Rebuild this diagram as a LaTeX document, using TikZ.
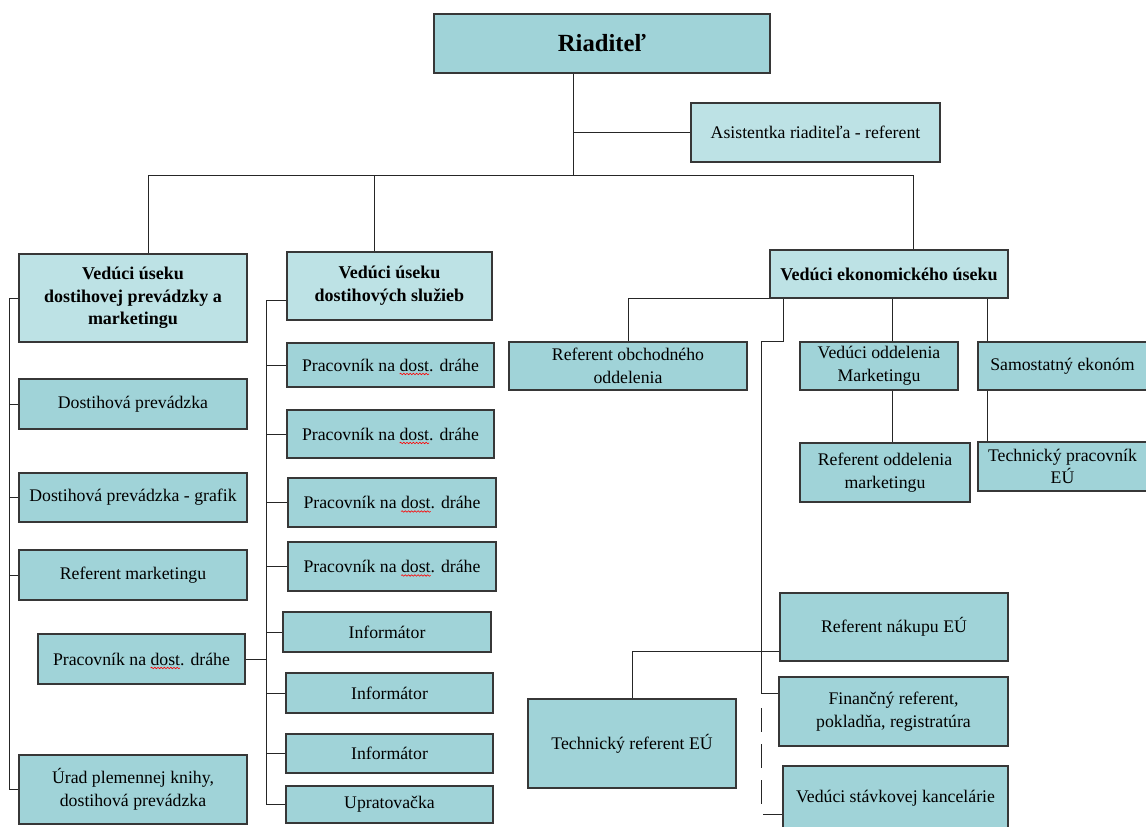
\documentclass[tikz,border=0pt]{standalone}
\usepackage{fontspec}
\setmainfont{Liberation Serif}
\usetikzlibrary{positioning, decorations.pathmorphing}

\definecolor{tealdark}{RGB}{160,211,216}
\definecolor{teallight}{RGB}{189,226,229}
\definecolor{edgegray}{RGB}{55,55,55}

% red spell-check wave under a word
\newcommand\squig[1]{\tikz[baseline=(sq.base)]{%
  \node[shape=rectangle, inner sep=0pt, outer sep=0pt, minimum width=0pt, minimum height=0pt,
    draw=none, fill=none, anchor=base] (sq) {#1};
  \draw[overlay, red, line width=0.45pt, decorate, decoration={snake, amplitude=0.55pt, segment length=2.4pt}]
    ([yshift=-2.2pt]sq.base west) -- ([yshift=-2.2pt]sq.base east);}}

\tikzset{
  wh/.style 2 args={minimum width=#1*0.75pt, minimum height=#2*0.75pt},
  post/.style={draw=edgegray, line width=0.9pt, fill=tealdark, inner sep=0pt,
    align=center, font=\fontsize{13.3}{17}\selectfont},
  head/.style={post, fill=teallight, font=\fontsize{13.5}{17}\selectfont\bfseries},
  link/.style={draw=black!85, line width=0.75pt},
}

\begin{document}
\begin{tikzpicture}[x=0.75pt, y=-0.75pt]
\useasboundingbox (0,0) rectangle (1146,826);
\fill[white] (0,0) rectangle (1146,826);

% riaditel a asistentka
\node[post, wh={336}{59}, font=\fontsize{18.5}{22}\selectfont\bfseries] (dir) at (602,43.5) {Riaditeľ};
\node[post, fill=teallight, wh={249}{59}] (asist) at (815.5,132.5) {Asistentka riaditeľa - referent};

% veduci usekov
\node[head, wh={228}{88}] (headL) at (133,298) {Vedúci úseku\\dostihovej prevádzky a\\marketingu};
\node[head, wh={205}{68}] (headM) at (389.5,286) {Vedúci úseku\\dostihových služieb};
\node[head, wh={238}{48}] (headR) at (889,274) {Vedúci ekonomického úseku};

% lavy usek
\node[post, wh={228}{50}] (L1) at (133,404) {Dostihová prevádzka};
\node[post, wh={228}{49}] (L2) at (133,497.5) {Dostihová prevádzka - grafik};
\node[post, wh={228}{50}] (L3) at (133,575) {Referent marketingu};
\node[post, wh={207}{50}] (L4) at (141.5,659) {Pracovník na \squig{dost}. dráhe};
\node[post, wh={228}{69}] (L5) at (133,789.5) {Úrad plemennej knihy,\\dostihová prevádzka};

% stredny usek
\node[post, wh={207}{44}] (M1) at (390.5,365) {Pracovník na \squig{dost}. dráhe};
\node[post, wh={207}{48}] (M2) at (390.5,434) {Pracovník na \squig{dost}. dráhe};
\node[post, wh={208}{49}] (M3) at (392,502.5) {Pracovník na \squig{dost}. dráhe};
\node[post, wh={208}{49}] (M4) at (392,566.5) {Pracovník na \squig{dost}. dráhe};
\node[post, wh={208}{40}] (M5) at (387,632) {Informátor};
\node[post, wh={207}{40}] (M6) at (389.5,693) {Informátor};
\node[post, wh={207}{39}] (M7) at (389.5,753.5) {Informátor};
\node[post, wh={207}{37}] (M8) at (389.5,804.5) {Upratovačka};

% ekonomicky usek
\node[post, wh={238}{48}] (R1) at (628,366) {Referent obchodného\\oddelenia};
\node[post, wh={158}{48}] (R2) at (879,366) {Vedúci oddelenia\\Marketingu};
\node[post, wh={169}{48}] (R3) at (1062.5,366) {Samostatný ekonóm};
\node[post, wh={170}{59}] (R4) at (885,472.5) {Referent oddelenia\\marketingu};
\node[post, wh={169}{49}] (R5) at (1062.5,466.5) {Technický pracovník\\EÚ};
\node[post, wh={228}{68}] (R6) at (894,627) {Referent nákupu EÚ};
\node[post, wh={229}{69}] (R7) at (893.5,711.5) {Finančný referent,\\pokladňa, registratúra};
\node[post, wh={225}{64}] (R8) at (895.5,798) {Vedúci stávkovej kancelárie};
\node[post, wh={208}{89}] (R9) at (632,743.5) {Technický referent EÚ};

% pomocne body
\coordinate (top) at (573,175);
\coordinate (bL) at (148,175);
\coordinate (bM) at (374,175);
\coordinate (bR) at (913,175);
\coordinate (sL) at (9,0);
\coordinate (mTop) at (266,300);
\coordinate (cR2) at (892,0);
\coordinate (cR3) at (987,0);
\coordinate (cT) at (783,0);
\coordinate (jog) at (761,341);
\coordinate (fin) at (761,693);
\coordinate (dsh) at (761,708);
\coordinate (stv) at (761,814);
\coordinate (nak) at (780,651);

% spojenia
\draw[link] (dir.south -| top) -- (top);
\draw[link] (asist.west -| top) -- (asist.west);
\draw[link] (bL) -- (bR);
\draw[link] (bL) -- (bL |- headL.north);
\draw[link] (bM) -- (bM |- headM.north);
\draw[link] (bR) -- (bR |- headR.north);

\draw[link] (headL.west) -- (headL.west -| sL) |- (L5.west);
\foreach \n in {L1,L2,L3}
  \draw[link] (\n.west) -- (\n.west -| sL);

\draw[link] (mTop -| headM.west) -- (mTop) |- (M8.west);
\foreach \n in {M1,M2,M3,M4,M5,M6,M7}
  \draw[link] (\n.west) -- (\n.west -| mTop);
\draw[link] (L4.east) -- (L4.east -| mTop);

\draw[link] (headR.south west) -| (R1.north);
\draw[link] (headR.south -| cR2) -- (R2.north -| cR2);
\draw[link] (R2.south -| cR2) -- (R4.north -| cR2);
\draw[link] (headR.south -| cR3) -- (R3.north -| cR3);
\draw[link] (R3.south -| cR3) -- (R5.north -| cR3);
\draw[link] (headR.south -| cT) |- (jog) -- (fin) -- (fin -| R7.west);
\draw[link, dash pattern=on 18pt off 9pt] (dsh) -- (stv) -- (stv -| R8.west);
\draw[link] (nak -| R6.west) -| (R9.north);
\end{tikzpicture}
\end{document}
